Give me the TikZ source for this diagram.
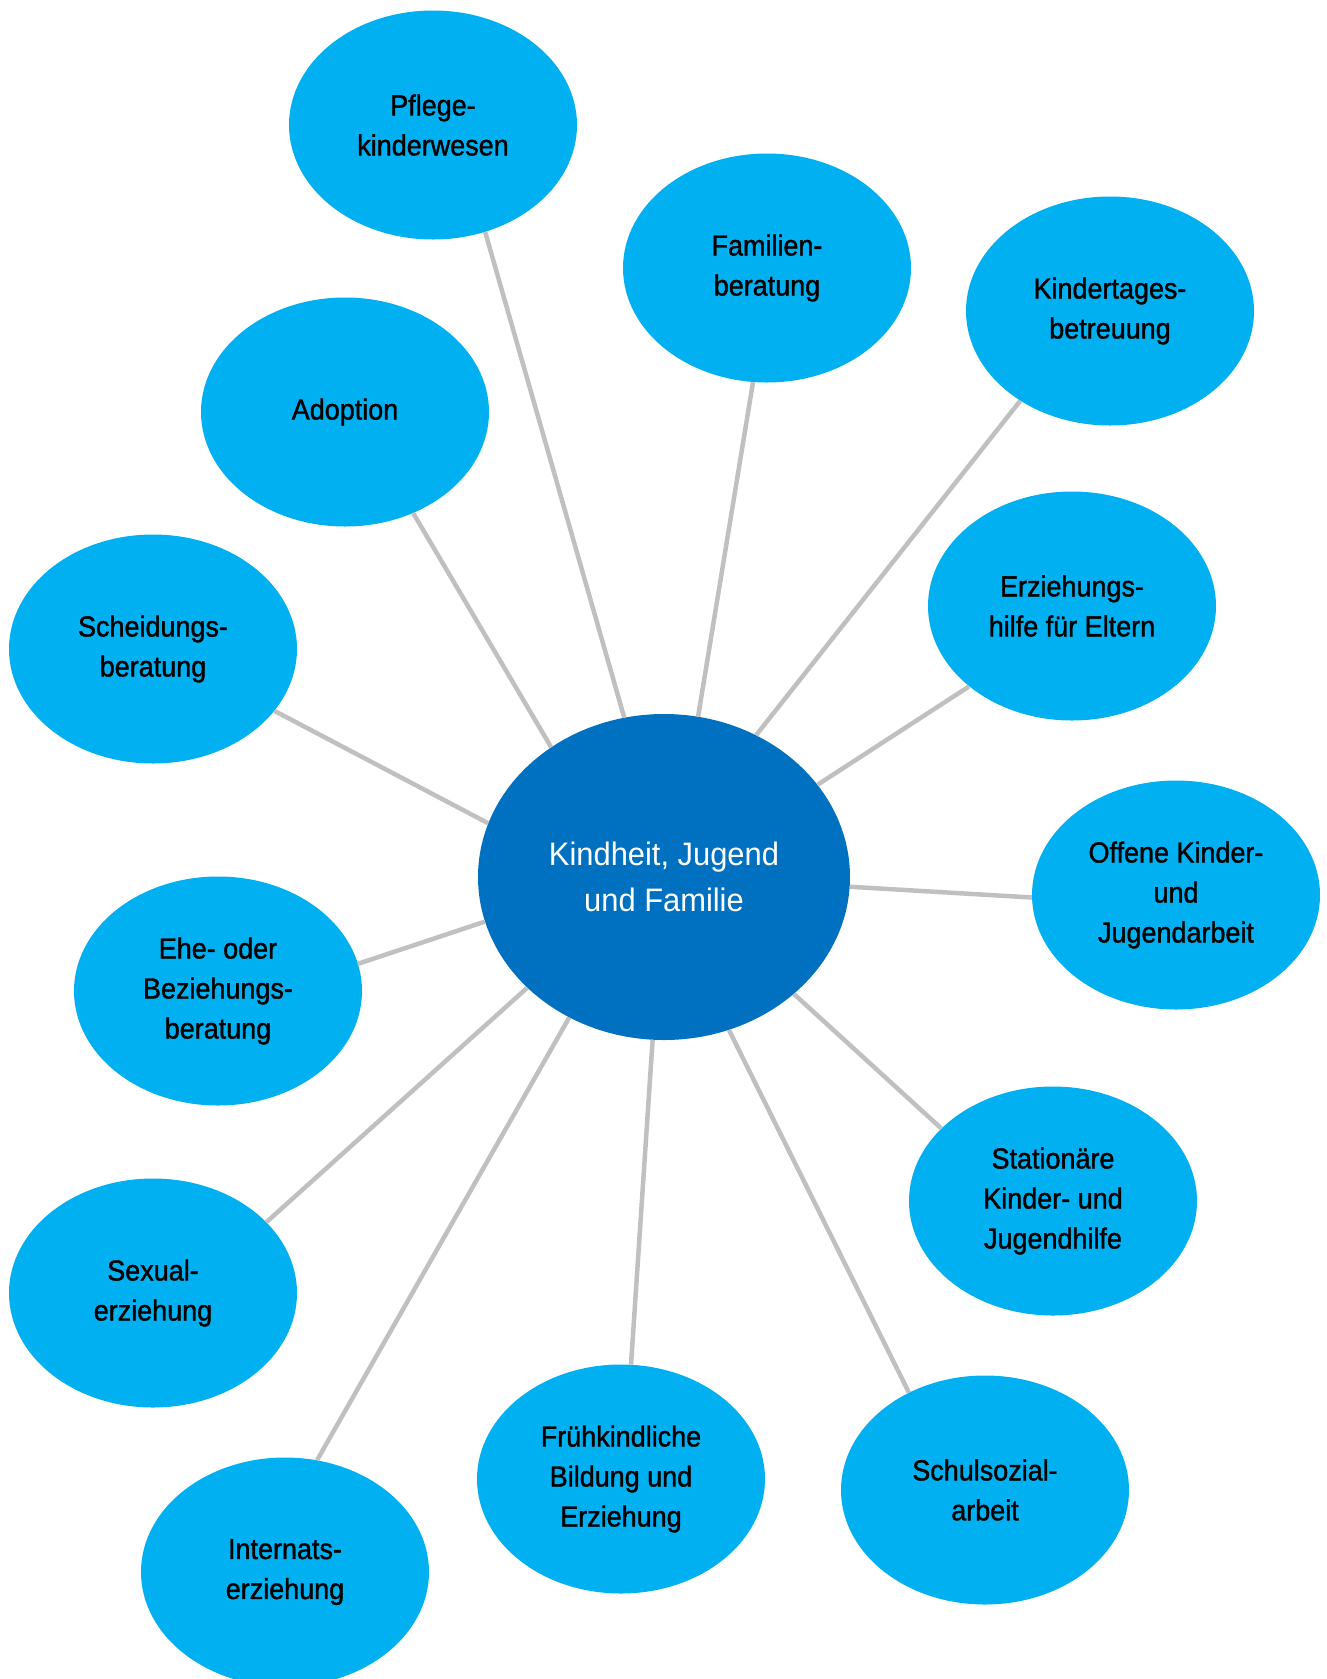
\documentclass[tikz,border=0pt]{standalone}
\usepackage{fontspec}
\setmainfont{Liberation Sans}
\newfontfamily\leaffont[FakeStretch=0.93,FakeBold=1.2]{Liberation Sans}
\newfontfamily\hubfont[FakeStretch=0.95]{Liberation Sans}
\usetikzlibrary{shapes.geometric}
\definecolor{leafblue}{HTML}{00B0F0}
\definecolor{hubblue}{HTML}{0070C0}
\definecolor{linkgray}{HTML}{C0C0C0}
\tikzset{
  leaf/.style={ellipse, fill=leafblue, minimum width=288pt, minimum height=229pt,
    inner sep=0pt, align=center, text=black, font=\leaffont\fontsize{29}{40}\selectfont},
  hub/.style={ellipse, fill=hubblue, minimum width=372pt, minimum height=326pt,
    inner sep=0pt, align=center, text=white, font=\hubfont\fontsize{32.5}{46.5}\selectfont},
  link/.style={draw=linkgray, line width=4.5pt}
}
\begin{document}
\begin{tikzpicture}[x=1pt,y=-1pt]
\useasboundingbox (0,0) rectangle (1326,1679);
\node[hub] (hub) at (664,877) {Kindheit, Jugend\\und Familie};
\node[leaf] (pfl) at (433,125) {Pflege-\\kinderwesen};
\node[leaf] (fam) at (767,268) {Familien-\\beratung};
\node[leaf] (kta) at (1110,311) {Kindertages-\\betreuung};
\node[leaf] (ado) at (345,412) {Adoption};
\node[leaf] (erz) at (1072,606) {Erziehungs-\\hilfe für Eltern};
\node[leaf] (sch) at (153,649) {Scheidungs-\\beratung};
\node[leaf] (off) at (1176,895) {Offene Kinder-\\und\\Jugendarbeit};
\node[leaf] (ehe) at (218,991) {Ehe- oder\\Beziehungs-\\beratung};
\node[leaf] (sta) at (1053,1201) {Stationäre\\Kinder- und\\Jugendhilfe};
\node[leaf] (sex) at (153,1293) {Sexual-\\erziehung};
\node[leaf] (fru) at (621,1479) {Frühkindliche\\Bildung und\\Erziehung};
\node[leaf] (ssa) at (985,1490) {Schulsozial-\\arbeit};
\node[leaf] (int) at (285,1572) {Internats-\\erziehung};
\draw[link] (hub.104.3) -- (pfl.-64.7);
\draw[link] (hub.78.3) -- (fam.263);
\draw[link] (hub.57.6) -- (kta.225.9);
\draw[link] (hub.131.2) -- (ado.-56.6);
\draw[link] (hub.31) -- (erz.218.9);
\draw[link] (hub.163) -- (sch.-27.1);
\draw[link] (hub.-3.7) -- (off.181.2);
\draw[link] (hub.194.6) -- (ehe.11.5);
\draw[link] (hub.-42.2) -- (sta.147.6);
\draw[link] (hub.219.8) -- (sex.32);
\draw[link] (hub.236.1) -- (int.74.2);
\draw[link] (hub.266.1) -- (fru.85.6);
\draw[link] (hub.293) -- (ssa.128.7);
\end{tikzpicture}
\end{document}
